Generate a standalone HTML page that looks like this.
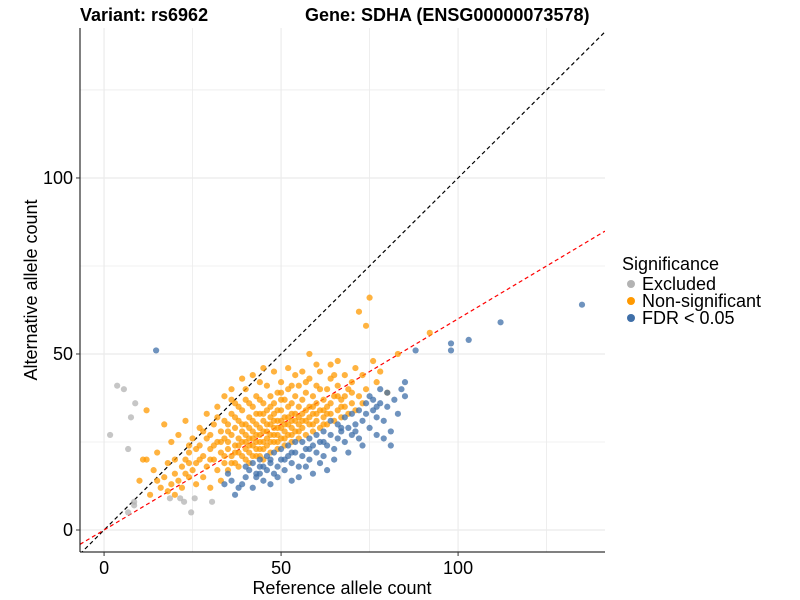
<!DOCTYPE html>
<html><head><meta charset="utf-8"><style>
html,body{margin:0;padding:0;background:#fff;}
svg{display:block;font-family:"Liberation Sans",Arial,sans-serif;}
</style></head><body>
<svg id="chart" width="800" height="600">
<g id="grid"></g>
<g id="lines"></g>
<g id="pts"></g>
<g id="axes"></g>
<text x="80" y="21" font-size="18" font-weight="bold">Variant: rs6962</text>
<text x="305" y="21" font-size="18" font-weight="bold">Gene: SDHA (ENSG00000073578)</text>
<text x="342" y="594" font-size="18" text-anchor="middle">Reference allele count</text>
<text transform="translate(37,290) rotate(-90)" font-size="18" text-anchor="middle">Alternative allele count</text>
<g>
<text x="622" y="270" font-size="18">Significance</text>
<circle cx="631" cy="284" r="4" fill="#b3b3b3"/>
<text x="642" y="290" font-size="18">Excluded</text>
<circle cx="631" cy="301" r="4" fill="#ff9900"/>
<text x="642" y="307" font-size="18">Non-significant</text>
<circle cx="631" cy="318" r="4" fill="#3f6fa8"/>
<text x="642" y="324" font-size="18">FDR &lt; 0.05</text>
</g>
</svg>
<script>
const xTicks=[0,50,100];
const yTicks=[0,50,100];
const xMinor=[25,75,125];
const yMinor=[25,75,125];
const refSlope=1;
const fitSlope=0.6;
const excluded=[[1.7,27],[3.7,41],[5.6,40],[8.8,36],[7.6,32],[6.8,23],[8.5,8],[8.5,7],[6.8,5],[18.6,9],[21.5,9],[22.6,8],[24.6,5],[25.6,9],[30.5,8]];
const fdr=[[14.7,51],[112,59],[135,64],[103,54],[98,53],[98,51],[88,51],
[34,13],[36,14],[38,12],[35,16],[40,15],[41,17],[43,16],[44,18],[45,14],[46,17],[47,19],[48,16],[49,18],[50,20],[51,17],[52,21],[53,19],[54,22],[55,18],[56,21],[57,23],[58,20],[59,24],[60,22],[61,25],[62,21],[63,24],[64,27],[65,23],[66,26],[67,28],[68,25],[69,29],[70,27],[71,30],[72,26],[73,31],[74,33],[75,29],[76,34],[77,32],[78,36],[79,31],[80,39],[81,28],[82,37],[84,40],[85,42],[74,36],[76,37],[78,40],[80,35],[72,34],[70,33],[68,32],[66,30],[64,31],[62,28],[60,27],[58,26],[56,25],[54,25],[52,24],[50,23],[48,22],[46,21],[44,20],[42,19],[40,18],[57,18],[61,19],[65,20],[69,22],[73,24],[77,27],[63,17],[59,16],[55,15],[53,14],[49,15],[47,13],[39,13],[42,12],[37,10],[85,38],[83,33],[79,26],[81,24],[75,38],[77,35],
[45,18],[51,20],[53,22],[47,20],[43,15],[58,23],[62,25],[67,29],[71,28],[44,16]];
const nonsig=[[10,14],[11,20],[12,20],[12,34],[13,10],[14,17],[15,14],[15,22],[16,12],[17,15],[17,30],[18,11],[18,19],[19,13],[19,25],[20,16],[20,10],[21,14],[21,27],[22,18],[22,12],[23,20],[23,31],[24,15],[24,22],[25,17],[25,26],[26,13],[26,19],[27,24],[27,29],[28,15],[28,21],[29,18],[29,33],[30,12],[30,23],[30,27],
[31,20],[31,30],[32,17],[32,25],[32,35],[33,22],[33,28],[33,14],[34,19],[34,26],[34,38],[35,23],[35,30],[35,17],[36,21],[36,27],[36,33],[36,40],[37,19],[37,24],[37,29],[37,36],[38,22],[38,26],[38,31],[38,18],[39,25],[39,28],[39,34],[39,43],[40,20],[40,23],[40,27],[40,30],[40,37],
[41,22],[41,26],[41,32],[41,19],[42,24],[42,28],[42,35],[42,44],[43,21],[43,25],[43,30],[43,38],[44,23],[44,27],[44,33],[44,29],[45,20],[45,25],[45,31],[45,36],[45,46],[46,24],[46,28],[46,34],[46,41],[47,22],[47,27],[47,30],[47,38],[48,25],[48,29],[48,33],[48,36],[49,23],[49,27],[49,31],[49,39],[50,26],[50,29],[50,34],[50,42],
[51,24],[51,28],[51,32],[51,37],[52,27],[52,30],[52,35],[52,40],[53,25],[53,29],[53,33],[54,28],[54,31],[54,38],[54,44],[55,26],[55,30],[55,35],[55,41],[56,29],[56,33],[56,37],[57,27],[57,31],[57,39],[58,30],[58,35],[58,43],[59,28],[59,33],[59,38],[60,31],[60,36],[60,41],
[61,29],[61,34],[61,45],[62,32],[62,37],[63,30],[63,35],[63,40],[64,33],[64,43],[65,31],[65,38],[66,34],[66,41],[67,32],[67,37],[68,35],[68,44],[69,33],[69,40],[70,36],[70,42],[71,34],[71,46],[72,38],[72,62],[73,36],[73,44],[74,40],[74,58],[75,66],[76,48],[77,42],[78,45],[80,39],[83,50],[92,56],[66,48],[64,47],[58,50],[52,46],[56,45],[60,47],[48,45],[44,42],[40,40],[36,37],[32,32],[28,28],[24,24],[20,20],
[34,21],[35,25],[36,19],[37,22],[38,24],[39,21],[39,30],[40,25],[41,24],[41,29],[42,21],[42,26],[42,31],[43,23],[43,27],[43,33],[44,25],[44,21],[45,23],[45,28],[45,33],[46,26],[46,30],[47,25],[47,32],[48,27],[48,31],[49,25],[49,29],[49,34],[50,31],[50,37],[51,26],[51,30],[52,32],[53,27],[53,31],[53,36],[54,33],[55,28],[55,32],[56,31],[57,34],[58,32],[59,30],[59,35],[60,33],[62,34],[62,30],[63,33],[64,36],[66,38],[67,35],[68,38],[70,39],[33,25],[31,24],[30,20],[29,26],[27,20],[26,23],[24,19],[23,16],[38,35],[41,36],[44,37],[47,35],[50,39],[53,41],[57,42],[61,40],[65,44],[37,32],[35,28],[34,31]];

const NS='http://www.w3.org/2000/svg';
const L=80,R=605,T=28,B=552;
const xMin=-6.8,xMax=141.5,yMin=-6.25,yMax=142.6;
const sx=v=>L+(v-xMin)/(xMax-xMin)*(R-L);
const sy=v=>B-(v-yMin)/(yMax-yMin)*(B-T);
function mk(tag,attrs,parent){const e=document.createElementNS(NS,tag);for(const k in attrs)e.setAttribute(k,attrs[k]);parent.appendChild(e);return e;}
const grid=document.getElementById('grid');
xMinor.concat(xTicks).forEach(v=>{if(sx(v)<=R){const l=mk('line',{x1:sx(v),x2:sx(v),y1:T,y2:B,stroke:'#ebebeb','stroke-width':xTicks.includes(v)?1.2:0.8},grid);

}});
yMinor.concat(yTicks).forEach(v=>{if(sy(v)>=T){const l=mk('line',{x1:L,x2:R,y1:sy(v),y2:sy(v),stroke:'#ebebeb','stroke-width':yTicks.includes(v)?1.2:0.8},grid);

}});
const lines=document.getElementById('lines');
const clip=mk('clipPath',{id:'pc'},lines);mk('rect',{x:L,y:T,width:R-L,height:B-T},clip);
const l1=mk('line',{x1:sx(xMin),y1:sy(xMin*refSlope),x2:sx(xMax),y2:sy(xMax*refSlope),stroke:'#000','stroke-dasharray':'4,3','stroke-width':1.2,'clip-path':'url(#pc)'},lines);


const l2=mk('line',{x1:sx(xMin),y1:sy(xMin*fitSlope),x2:sx(xMax),y2:sy(xMax*fitSlope),stroke:'#ff0000','stroke-dasharray':'4,3','stroke-width':1.2,'clip-path':'url(#pc)'},lines);


const pts=document.getElementById('pts');
function drawSet(arr,color,name){arr.forEach(p=>{const c=mk('circle',{cx:sx(p[0]),cy:sy(p[1]),r:3.1,fill:color,'fill-opacity':0.75},pts);

});}
drawSet(excluded,'#b3b3b3','point-excluded');
drawSet(nonsig,'#ff9900','point-nonsignificant');
drawSet(fdr,'#3f6fa8','point-fdr');
const axes=document.getElementById('axes');
mk('line',{x1:L,x2:L,y1:T,y2:B,stroke:'#000','stroke-width':1},axes);
mk('line',{x1:L,x2:R,y1:B,y2:B,stroke:'#000','stroke-width':1},axes);
xTicks.forEach(v=>{mk('line',{x1:sx(v),x2:sx(v),y1:B,y2:B+4,stroke:'#333'},axes);
const t=mk('text',{x:sx(v),y:B+22,'font-size':18,'text-anchor':'middle',fill:'#000'},axes);t.textContent=v;

});
yTicks.forEach(v=>{mk('line',{x1:L-4,x2:L,y1:sy(v),y2:sy(v),stroke:'#333'},axes);
const t=mk('text',{x:L-7,y:sy(v)+6,'font-size':18,'text-anchor':'end',fill:'#000'},axes);t.textContent=v;

});
</script>
</body></html>
